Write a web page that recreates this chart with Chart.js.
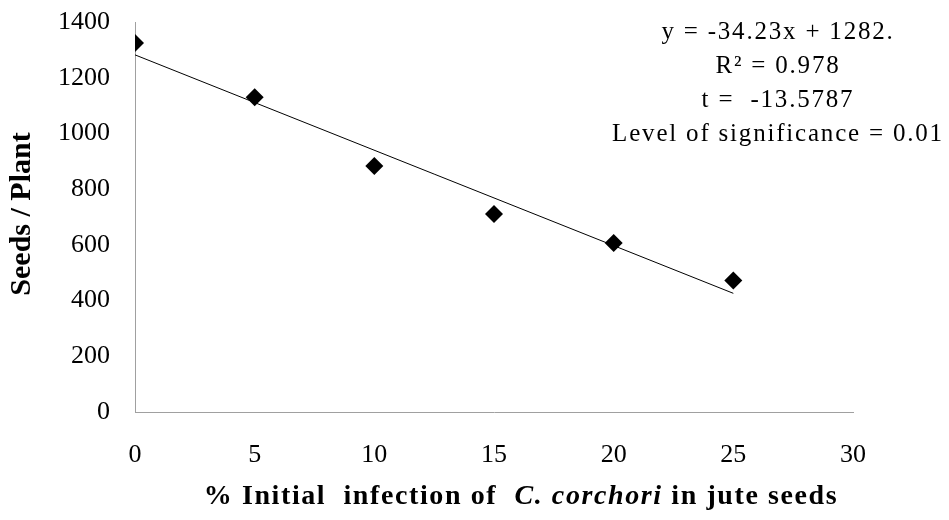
<!DOCTYPE html>
<html>
<head>
<meta charset="utf-8">
<script src="https://cdn.jsdelivr.net/npm/chart.js@4"></script>
<style>
  html, body { margin: 0; padding: 0; background: #fff; }
  #wrap { width: 949px; height: 520px; position: relative; }
</style>
</head>
<body>
<div id="wrap"><canvas id="chart"></canvas></div>
<script>
const infectionPct = [0, 5, 10, 15, 20, 25];
const seedsPerPlant = [1325, 1130, 883, 711, 607, 472];

// fitted line endpoints
const trendX = [0, 25];
const trendY = [1282, 426];

const statsLines = [
  'y = -34.23x + 1282.',
  'R² = 0.978',
  't =  -13.5787',
  'Level of significance = 0.01',
];
const xTitleParts = [
  { text: '% Initial  infection of  ', italic: false },
  { text: 'C. corchori', italic: true },
  { text: ' in jute seeds', italic: false },
];
const yTitle = 'Seeds / Plant';

const SERIF = '"Liberation Serif", "Times New Roman", serif';

// stats block top-right, axis titles (x title mixes italic)
const textPlugin = {
  id: 'stats-text',
  afterDraw(chart) {
    const ctx = chart.ctx;
    const hasLS = 'letterSpacing' in ctx;
    ctx.save();
    ctx.fillStyle = '#000';
    ctx.textBaseline = 'middle';
    ctx.textAlign = 'center';
    ctx.font = '25px ' + SERIF;
    if (hasLS) ctx.letterSpacing = '1.8px';
    const cx = chart.chartArea.right - 75;
    statsLines.forEach((line, i) => {
      ctx.fillText(line, cx, 32 + i * 34);
    });

    // x title sits a bit right of the plot centre, as in the original
    ctx.textAlign = 'left';
    if (hasLS) ctx.letterSpacing = '1.6px';
    const fontFor = p => (p.italic ? 'italic bold 28px ' : 'bold 28px ') + SERIF;
    let total = 0;
    for (const p of xTitleParts) { ctx.font = fontFor(p); total += ctx.measureText(p.text).width; }
    let x = 521 - total / 2;
    const y = chart.height - 23;
    for (const p of xTitleParts) {
      ctx.font = fontFor(p);
      ctx.fillText(p.text, x, y);
      x += ctx.measureText(p.text).width;
    }
    if (hasLS) ctx.letterSpacing = '0px';

    // y title, rotated
    ctx.translate(22, 214);
    ctx.rotate(-Math.PI / 2);
    ctx.textAlign = 'center';
    ctx.font = 'bold 30px ' + SERIF;
    ctx.fillText(yTitle, 0, 0);
    ctx.restore();
  },
};

const points = infectionPct.map((x, i) => ({ x, y: seedsPerPlant[i] }));
const trend = trendX.map((x, i) => ({ x, y: trendY[i] }));

new Chart(document.getElementById('chart'), {
  type: 'scatter',
  data: {
    datasets: [
      {
        label: 'Seeds / Plant',
        data: points,
        pointStyle: 'rectRot',
        pointRadius: 9,
        backgroundColor: '#000',
        borderColor: '#000',
        borderWidth: 0,
      },
      {
        label: 'Linear fit',
        data: trend,
        showLine: true,
        pointRadius: 0,
        borderColor: '#000',
        borderWidth: 1,
        fill: false,
      },
    ],
  },
  options: {
    responsive: true,
    maintainAspectRatio: false,
    animation: false,
    layout: { padding: { left: 0, right: 96, top: 22, bottom: 0 } },
    scales: {
      x: {
        type: 'linear',
        min: 0,
        max: 30,
        afterFit: s => { s.height = 108; },
        ticks: {
          stepSize: 5,
          color: '#000',
          padding: 28,
          font: { family: SERIF, size: 26 },
        },
        grid: { display: false, drawTicks: false },
        border: { display: true, color: '#a0a0a0', width: 1 },
      },
      y: {
        min: 0,
        max: 1400,
        // tick padding otherwise gets added to the label overflow at the top
        afterFit: s => { s.width = 135; s.paddingTop = 0; s.paddingBottom = 0; },
        ticks: {
          stepSize: 200,
          color: '#000',
          padding: 25,
          font: { family: SERIF, size: 26 },
          callback: v => String(v),
        },
        grid: { display: false, drawTicks: false },
        border: { display: true, color: '#a0a0a0', width: 1 },
      },
    },
    plugins: {
      legend: { display: false },
      tooltip: { enabled: false },
    },
  },
  plugins: [textPlugin],
});
</script>
</body>
</html>
